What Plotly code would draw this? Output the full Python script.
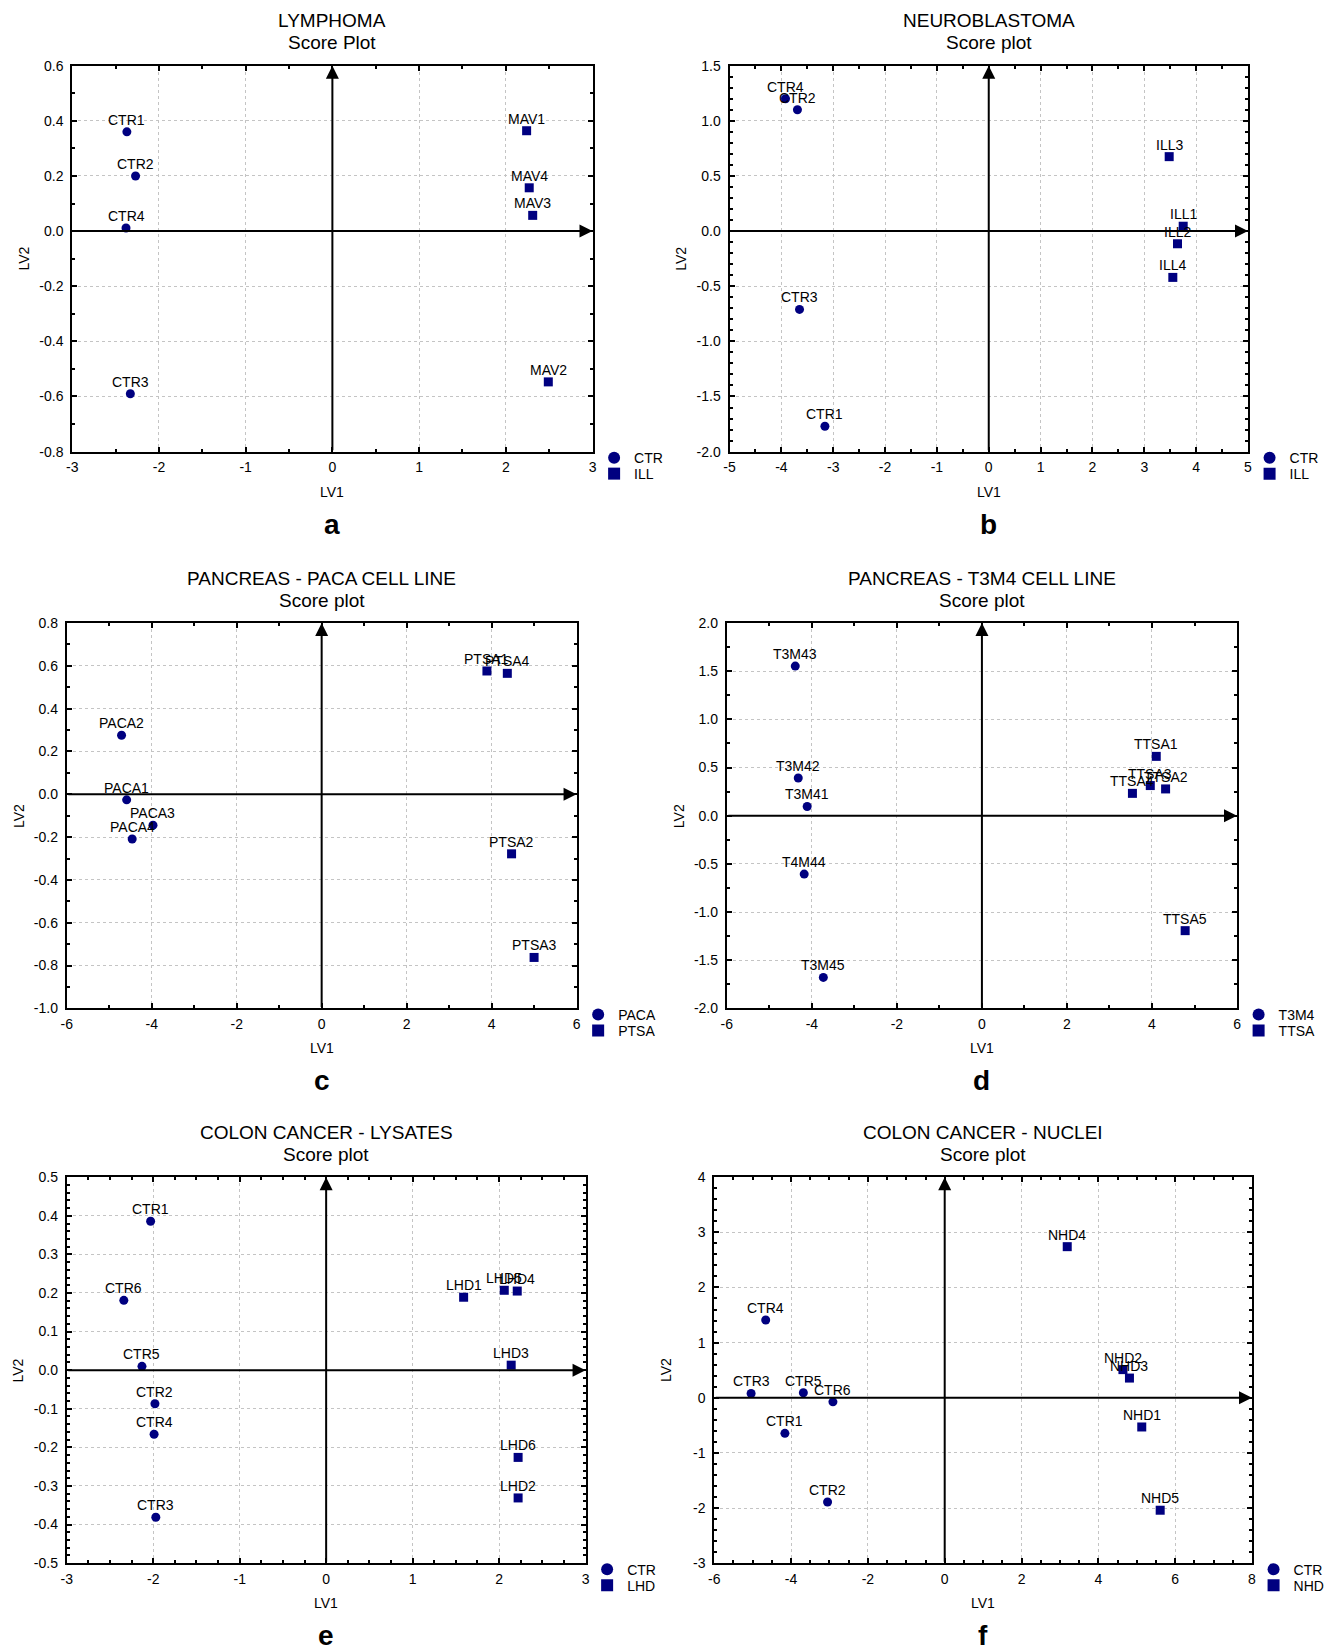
import plotly.graph_objects as go

# ---------------- DATA ----------------
# (a) LYMPHOMA
a_ctr_names = ["CTR1", "CTR2", "CTR4", "CTR3"]
a_ctr_x = [-2.37, -2.27, -2.38, -2.33]
a_ctr_y = [0.36, 0.20, 0.011, -0.59]
a_ill_names = ["MAV1", "MAV4", "MAV3", "MAV2"]
a_ill_x = [2.24, 2.27, 2.31, 2.49]
a_ill_y = [0.364, 0.157, 0.057, -0.547]
a_xticks = [-3, -2, -1, 0, 1, 2, 3]
a_yticks = [-0.8, -0.6, -0.4, -0.2, 0.0, 0.2, 0.4, 0.6]

# (b) NEUROBLASTOMA
b_ctr_names = ["CTR4", "CTR2", "CTR3", "CTR1"]
b_ctr_x = [-3.92, -3.69, -3.65, -3.16]
b_ctr_y = [1.20, 1.10, -0.71, -1.77]
b_ill_names = ["ILL3", "ILL1", "ILL2", "ILL4"]
b_ill_x = [3.48, 3.75, 3.64, 3.55]
b_ill_y = [0.675, 0.044, -0.115, -0.42]
b_xticks = [-5, -4, -3, -2, -1, 0, 1, 2, 3, 4, 5]
b_yticks = [-2.0, -1.5, -1.0, -0.5, 0.0, 0.5, 1.0, 1.5]

# (c) PANCREAS - PACA CELL LINE
c_paca_names = ["PACA2", "PACA1", "PACA3", "PACA4"]
c_paca_x = [-4.71, -4.59, -3.97, -4.46]
c_paca_y = [0.276, -0.026, -0.144, -0.209]
c_ptsa_names = ["PTSA1", "PTSA4", "PTSA2", "PTSA3"]
c_ptsa_x = [3.89, 4.37, 4.47, 5.00]
c_ptsa_y = [0.576, 0.565, -0.278, -0.762]
c_xticks = [-6, -4, -2, 0, 2, 4, 6]
c_yticks = [-1.0, -0.8, -0.6, -0.4, -0.2, 0.0, 0.2, 0.4, 0.6, 0.8]

# (d) PANCREAS - T3M4 CELL LINE
d_t3m4_names = ["T3M43", "T3M42", "T3M41", "T4M44", "T3M45"]
d_t3m4_x = [-4.39, -4.32, -4.11, -4.18, -3.73]
d_t3m4_y = [1.553, 0.392, 0.096, -0.606, -1.678]
d_ttsa_names = ["TTSA1", "TTSA3", "TTSA4", "TTSA2", "TTSA5"]
d_ttsa_x = [4.10, 3.96, 3.54, 4.32, 4.78]
d_ttsa_y = [0.616, 0.313, 0.232, 0.278, -1.193]
d_xticks = [-6, -4, -2, 0, 2, 4, 6]
d_yticks = [-2.0, -1.5, -1.0, -0.5, 0.0, 0.5, 1.0, 1.5, 2.0]

# (e) COLON CANCER - LYSATES
e_ctr_names = ["CTR1", "CTR6", "CTR5", "CTR2", "CTR4", "CTR3"]
e_ctr_x = [-2.03, -2.34, -2.13, -1.98, -1.99, -1.97]
e_ctr_y = [0.386, 0.181, 0.010, -0.087, -0.166, -0.381]
e_lhd_names = ["LHD1", "LHD5", "LHD4", "LHD3", "LHD6", "LHD2"]
e_lhd_x = [1.59, 2.06, 2.21, 2.14, 2.22, 2.22]
e_lhd_y = [0.189, 0.207, 0.205, 0.013, -0.226, -0.331]
e_xticks = [-3, -2, -1, 0, 1, 2, 3]
e_yticks = [-0.5, -0.4, -0.3, -0.2, -0.1, 0.0, 0.1, 0.2, 0.3, 0.4, 0.5]

# (f) COLON CANCER - NUCLEI
f_ctr_names = ["CTR4", "CTR3", "CTR5", "CTR6", "CTR1", "CTR2"]
f_ctr_x = [-4.66, -5.04, -3.68, -2.91, -4.16, -3.05]
f_ctr_y = [1.41, 0.078, 0.091, -0.074, -0.645, -1.89]
f_nhd_names = ["NHD4", "NHD2", "NHD3", "NHD1", "NHD5"]
f_nhd_x = [3.19, 4.64, 4.81, 5.13, 5.61]
f_nhd_y = [2.74, 0.51, 0.357, -0.53, -2.04]
f_xticks = [-6, -4, -2, 0, 2, 4, 6, 8]
f_yticks = [-3, -2, -1, 0, 1, 2, 3, 4]

titles = ["LYMPHOMA", "NEUROBLASTOMA", "PANCREAS - PACA CELL LINE",
          "PANCREAS - T3M4 CELL LINE", "COLON CANCER - LYSATES", "COLON CANCER - NUCLEI"]
subtitles = ["Score Plot", "Score plot", "Score plot", "Score plot", "Score plot", "Score plot"]
letters = ["a", "b", "c", "d", "e", "f"]
group_names = [("CTR", "ILL"), ("CTR", "ILL"), ("PACA", "PTSA"),
               ("T3M4", "TTSA"), ("CTR", "LHD"), ("CTR", "NHD")]
series = [
    (a_ctr_names, a_ctr_x, a_ctr_y, a_ill_names, a_ill_x, a_ill_y),
    (b_ctr_names, b_ctr_x, b_ctr_y, b_ill_names, b_ill_x, b_ill_y),
    (c_paca_names, c_paca_x, c_paca_y, c_ptsa_names, c_ptsa_x, c_ptsa_y),
    (d_t3m4_names, d_t3m4_x, d_t3m4_y, d_ttsa_names, d_ttsa_x, d_ttsa_y),
    (e_ctr_names, e_ctr_x, e_ctr_y, e_lhd_names, e_lhd_x, e_lhd_y),
    (f_ctr_names, f_ctr_x, f_ctr_y, f_nhd_names, f_nhd_x, f_nhd_y),
]
x_ticks = [a_xticks, b_xticks, c_xticks, d_xticks, e_xticks, f_xticks]
y_ticks = [a_yticks, b_yticks, c_yticks, d_yticks, e_yticks, f_yticks]
x_minor = [0.5, 0.5, 1, 1, 0.25, 0.5]
y_minor = [0.1, 0.1, 0.1, 0.25, 0.02, 0.2]
y_decimals = [1, 1, 1, 1, 1, 0]

# ---------------- LAYOUT GEOMETRY (pixels, as seen in the target) ----------------
W, H = 1330, 1650
boxes = [  # left, right, top, bottom
    (72.5, 594, 65.2, 451.4),
    (731.3, 1251, 65.2, 451.4),
    (67, 578, 622.9, 1008.5),
    (728.6, 1240, 622.9, 1008.5),
    (67, 587, 1177.4, 1563.6),
    (716, 1255, 1177.4, 1563.6),
]

# small correction measured between requested and photographed positions
SX, CX = 0.9948, 6.1
SY, CY = 0.9909, 7.5

NAVY = "#000080"
FONT = "Liberation Sans, Arial, Helvetica, sans-serif"


def fmt(v, dec):
    s = f"{v:.{dec}f}"
    if s.startswith("-") and float(s) == 0:
        s = s[1:]
    return s  # plain hyphen-minus like the original


def X(v):
    return (v - CX) / SX


def Y(v):
    return (v - CY) / SY


def px(x):
    return X(x) / W


def py(y):
    return 1 - Y(y) / H


def legend_id(k):
    return "legend" if k == 1 else f"legend{k}"


fig = go.Figure()
annotations = []
layout = dict(
    width=W, height=H,
    margin=dict(l=0, r=0, t=0, b=0),
    paper_bgcolor="white", plot_bgcolor="white",
    font=dict(family=FONT, size=14, color="black"),
    showlegend=True,
)

for i in range(6):
    n = i + 1
    xa = "x" if n == 1 else f"x{n}"
    ya = "y" if n == 1 else f"y{n}"
    l, r, t, b = boxes[i]
    g1, g2 = group_names[i]
    n1, x1, y1, n2, x2, y2 = series[i]
    leg1, leg2 = legend_id(2 * i + 1), legend_id(2 * i + 2)

    fig.add_trace(go.Scatter(
        x=x1, y=y1, mode="markers", name=g1,
        marker=dict(symbol="circle", size=9, color=NAVY),
        xaxis=xa, yaxis=ya, legend=leg1, cliponaxis=False, hoverinfo="skip"))
    fig.add_trace(go.Scatter(
        x=x2, y=y2, mode="markers", name=g2,
        marker=dict(symbol="square", size=9, color=NAVY),
        xaxis=xa, yaxis=ya, legend=leg2, cliponaxis=False, hoverinfo="skip"))

    # point labels, placed above each point through the axes
    for names, xs, ys in ((n1, x1, y1), (n2, x2, y2)):
        for nm, xv, yv in zip(names, xs, ys):
            annotations.append(dict(x=xv, y=yv, xref=xa, yref=ya, text=nm,
                                    showarrow=False, yshift=12, xanchor="center",
                                    yanchor="middle", font=dict(size=14, color="black")))

    xt, yt = x_ticks[i], y_ticks[i]
    common = dict(
        showline=True, linewidth=2, linecolor="black", mirror="allticks",
        ticks="inside", ticklen=5, tickwidth=1.5, tickcolor="black",
        showgrid=True, gridcolor="#c4c4c4", griddash="dot", gridwidth=1,
        zeroline=False, tickfont=dict(size=14, family=FONT, color="black"),
        tickmode="array",
    )
    layout["xaxis" if n == 1 else f"xaxis{n}"] = dict(
        common, domain=[px(l), px(r)], anchor=ya, range=[xt[0], xt[-1]],
        tickvals=xt, ticktext=[fmt(v, 0) for v in xt], ticklabelstandoff=2,
        minor=dict(tick0=xt[0], dtick=x_minor[i], ticks="inside", ticklen=3,
                   tickcolor="black", showgrid=False),
    )
    layout["yaxis" if n == 1 else f"yaxis{n}"] = dict(
        common, domain=[py(b), py(t)], anchor=xa, range=[yt[0], yt[-1]],
        tickvals=yt, ticktext=[fmt(v, y_decimals[i]) for v in yt], ticklabelstandoff=4,
        minor=dict(tick0=yt[0], dtick=y_minor[i], ticks="inside", ticklen=3,
                   tickcolor="black", showgrid=False),
    )

    # axis arrows through the origin
    annotations.append(dict(x=xt[-1], y=0, ax=xt[0], ay=0, xref=xa, yref=ya,
                            axref=xa, ayref=ya, text="", showarrow=True,
                            arrowhead=2, arrowsize=1.3, arrowwidth=2, arrowcolor="black"))
    annotations.append(dict(x=0, y=yt[-1], ax=0, ay=yt[0], xref=xa, yref=ya,
                            axref=xa, ayref=ya, text="", showarrow=True,
                            arrowhead=2, arrowsize=1.3, arrowwidth=2, arrowcolor="black"))

    cx = (l + r) / 2
    cy = (t + b) / 2
    annotations.append(dict(x=px(cx), y=py(t - 45), xref="paper", yref="paper",
                            text=titles[i], showarrow=False, font=dict(size=19),
                            xanchor="center", yanchor="middle"))
    annotations.append(dict(x=px(cx), y=py(t - 23), xref="paper", yref="paper",
                            text=subtitles[i], showarrow=False, font=dict(size=19),
                            xanchor="center", yanchor="middle"))
    annotations.append(dict(x=px(cx), y=py(b + 40), xref="paper", yref="paper",
                            text="LV1", showarrow=False, font=dict(size=14),
                            xanchor="center", yanchor="middle"))
    annotations.append(dict(x=px(l - 48.5), y=py(cy), xref="paper", yref="paper",
                            text="LV2", showarrow=False, font=dict(size=14), textangle=-90,
                            xanchor="center", yanchor="middle"))
    annotations.append(dict(x=px(cx), y=py(b + 72.5), xref="paper", yref="paper",
                            text=f"<b>{letters[i]}</b>", showarrow=False,
                            font=dict(size=28, family=FONT),
                            xanchor="center", yanchor="middle"))
    # one legend per group so the two entries sit as close as in the original
    for leg, item_y in ((leg1, b + 6), (leg2, b + 22)):
        layout[leg] = dict(
            x=(X(r + 18) - 16.5) / W, y=py(item_y - 15.6), xanchor="left", yanchor="top",
            bgcolor="rgba(0,0,0,0)", borderwidth=0, tracegroupgap=0,
            font=dict(size=14, family=FONT), itemsizing="constant",
        )

layout["annotations"] = annotations
fig.update_layout(**layout)
fig.write_html(
    "out.html",
    config={"displayModeBar": False},
    post_script="document.body.style.margin='0';document.body.style.padding='0';"
                "document.documentElement.style.overflow='hidden';",
)
